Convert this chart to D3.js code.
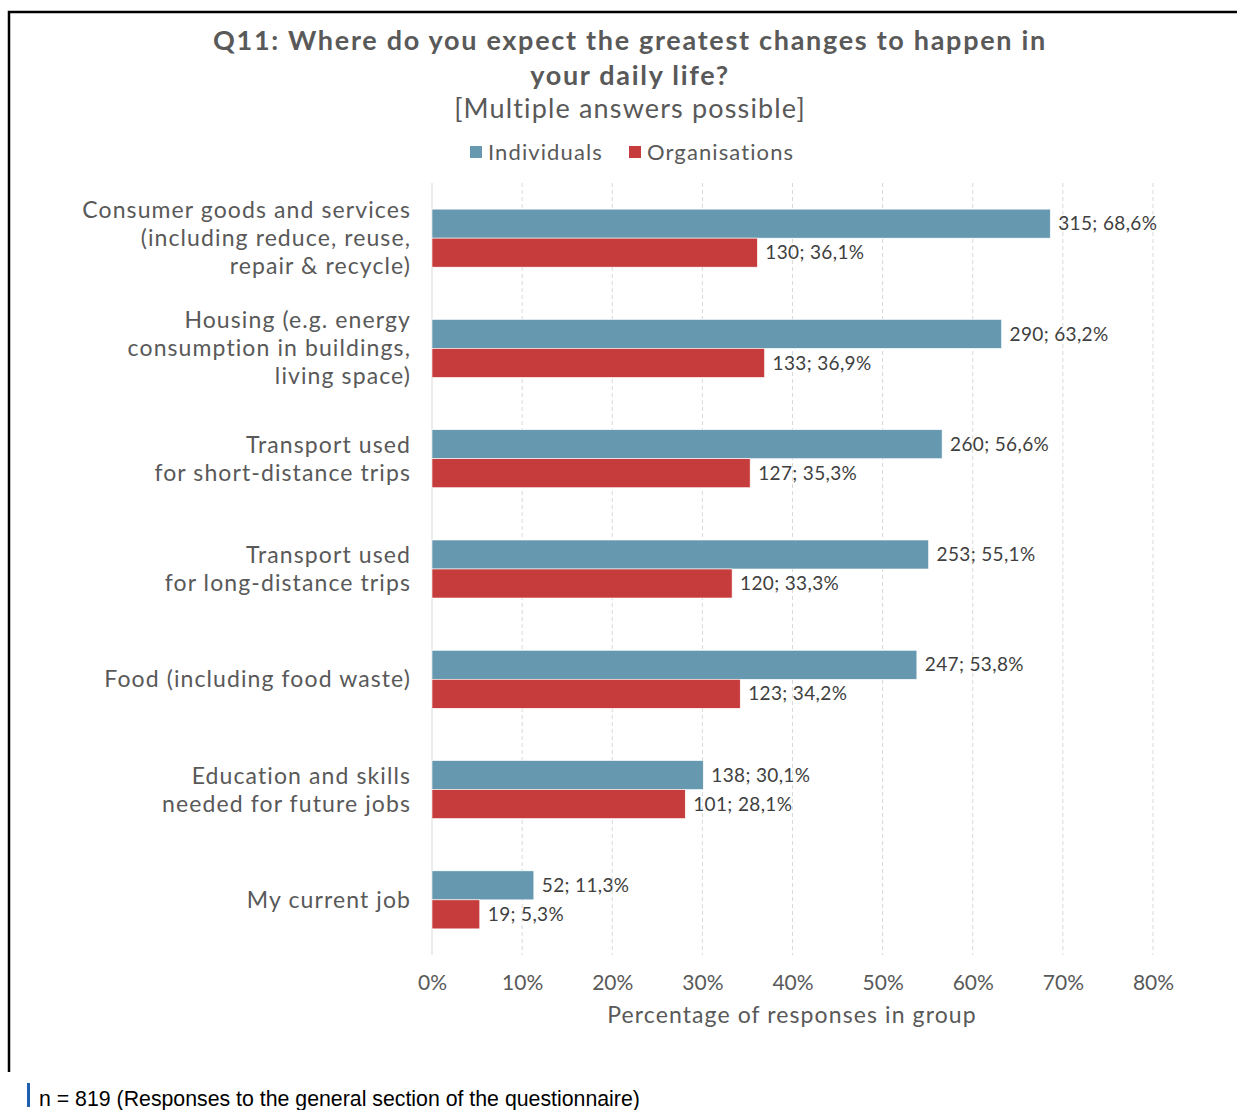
<!DOCTYPE html>
<html>
<head>
<meta charset="utf-8">
<script src="https://cdn.jsdelivr.net/npm/d3@7"></script>
<style>
  html, body { margin: 0; padding: 0; background: #fff; }
  svg { display: block; }
  text { font-family: Lato, "Noto Sans", sans-serif; }
  text.footnote { font-family: "Liberation Sans", Arial, sans-serif; }
</style>
</head>
<body>
<svg id="chart" width="1237" height="1110"></svg>
<script>
// Categories (top to bottom), each label split into its display lines
const categories = [
  ["Consumer goods and services", "(including reduce, reuse,", "repair & recycle)"],
  ["Housing (e.g. energy", "consumption in buildings,", "living space)"],
  ["Transport used", "for short-distance trips"],
  ["Transport used", "for long-distance trips"],
  ["Food (including food waste)"],
  ["Education and skills", "needed for future jobs"],
  ["My current job"]
];

// Response counts and share of responses within each group (%)
const individualsCount = [315, 290, 260, 253, 247, 138, 52];
const individualsPct   = [68.6, 63.2, 56.6, 55.1, 53.8, 30.1, 11.3];
const organisationsCount = [130, 133, 127, 120, 123, 101, 19];
const organisationsPct   = [36.1, 36.9, 35.3, 33.3, 34.2, 28.1, 5.3];

const seriesNames = ["Individuals", "Organisations"];
const xTicks = [0, 10, 20, 30, 40, 50, 60, 70, 80];

const colors = { "Individuals": "#6699B0", "Organisations": "#C63B3B" };
const textColor = "#595959";

const svg = d3.select("#chart");

// Outer frame (top and left edges)
svg.append("path")
  .attr("d", "M9,1072 V12 H1237")
  .attr("fill", "none").attr("stroke", "#000").attr("stroke-width", 2.5);

// Title block
const title = svg.append("g").attr("fill", textColor).attr("text-anchor", "middle");
title.append("text").attr("x", 630).attr("y", 50)
  .attr("font-size", 27).attr("font-weight", 700).attr("letter-spacing", 1.7)
  .text("Q11: Where do you expect the greatest changes to happen in");
title.append("text").attr("x", 630).attr("y", 85)
  .attr("font-size", 27).attr("font-weight", 700).attr("letter-spacing", 1.7)
  .text("your daily life?");
title.append("text").attr("x", 630).attr("y", 118)
  .attr("font-size", 27).attr("letter-spacing", 1.15)
  .text("[Multiple answers possible]");

// Legend
const legend = svg.append("g").attr("font-size", 22).attr("fill", textColor).attr("letter-spacing", 1.1);
const legendItems = [{ name: seriesNames[0], x: 470 }, { name: seriesNames[1], x: 629 }];
legendItems.forEach(it => {
  legend.append("rect").attr("x", it.x).attr("y", 146).attr("width", 12).attr("height", 12)
    .attr("fill", colors[it.name]);
  legend.append("text").attr("x", it.x + 18).attr("y", 160).text(it.name);
});

// Scales
const x = d3.scaleLinear().domain([0, 80]).range([432, 1153]);
const y = d3.scaleBand().domain(d3.range(categories.length))
  .range([183, 955]).paddingInner(0.474).paddingOuter(0.237);
const ySeries = d3.scaleBand().domain(seriesNames).range([0, y.bandwidth()]);

// Gridlines
const grid = svg.append("g");
xTicks.forEach(t => {
  grid.append("line")
    .attr("x1", x(t)).attr("x2", x(t)).attr("y1", 183).attr("y2", 955)
    .attr("stroke", "#d9d9d9").attr("stroke-width", 1)
    .attr("stroke-dasharray", t === 0 ? null : "4,3");
});

// Bars and value labels
const rows = categories.map((c, i) => ({
  i,
  values: [
    { series: "Individuals", count: individualsCount[i], pct: individualsPct[i] },
    { series: "Organisations", count: organisationsCount[i], pct: organisationsPct[i] }
  ]
}));

const fmt = v => v.toFixed(1).replace(".", ",");

const groups = svg.append("g").selectAll("g").data(rows).join("g")
  .attr("transform", d => `translate(0,${y(d.i)})`);

groups.selectAll("rect").data(d => d.values).join("rect")
  .attr("x", x(0))
  .attr("y", d => ySeries(d.series))
  .attr("width", d => x(d.pct) - x(0))
  .attr("height", ySeries.bandwidth())
  .attr("fill", d => colors[d.series])
  .attr("stroke", "#fff").attr("stroke-width", 0.6);

groups.selectAll("text.val").data(d => d.values).join("text")
  .attr("class", "val")
  .attr("x", d => x(d.pct) + 8)
  .attr("y", d => ySeries(d.series) + ySeries.bandwidth() / 2)
  .attr("dy", "0.35em")
  .attr("font-size", 19).attr("letter-spacing", 0.35).attr("fill", "#404040")
  .text(d => `${d.count}; ${fmt(d.pct)}%`);

// Category labels
const lineH = 28;
const catLabels = svg.append("g").attr("text-anchor", "end").attr("fill", textColor)
  .attr("font-size", 23).attr("letter-spacing", 1.1);
categories.forEach((lines, i) => {
  const cy = y(i) + y.bandwidth() / 2;
  const t = catLabels.append("text").attr("x", 411);
  lines.forEach((ln, k) => {
    t.append("tspan").attr("x", 411)
      .attr("y", cy + (k - (lines.length - 1) / 2) * lineH)
      .attr("dy", "0.35em").text(ln);
  });
});

// X axis tick labels
const xAxis = d3.axisBottom(x).tickValues(xTicks).tickSize(0).tickPadding(0)
  .tickFormat(d => d + "%");
const axisG = svg.append("g").attr("transform", "translate(0,975)").call(xAxis);
axisG.select(".domain").remove();
axisG.selectAll("text").attr("font-size", 21).attr("fill", textColor);

// Axis title
svg.append("text").attr("x", 792).attr("y", 1023).attr("text-anchor", "middle")
  .attr("font-size", 23).attr("letter-spacing", 1.1).attr("fill", textColor)
  .text("Percentage of responses in group");

// Footnote
svg.append("rect").attr("x", 27).attr("y", 1083).attr("width", 3).attr("height", 24).attr("fill", "#1F5FAF");
svg.append("text").attr("class", "footnote").attr("x", 39).attr("y", 1106)
  .attr("font-size", 21.3).attr("fill", "#000")
  .text("n = 819 (Responses to the general section of the questionnaire)");
</script>
</body>
</html>
